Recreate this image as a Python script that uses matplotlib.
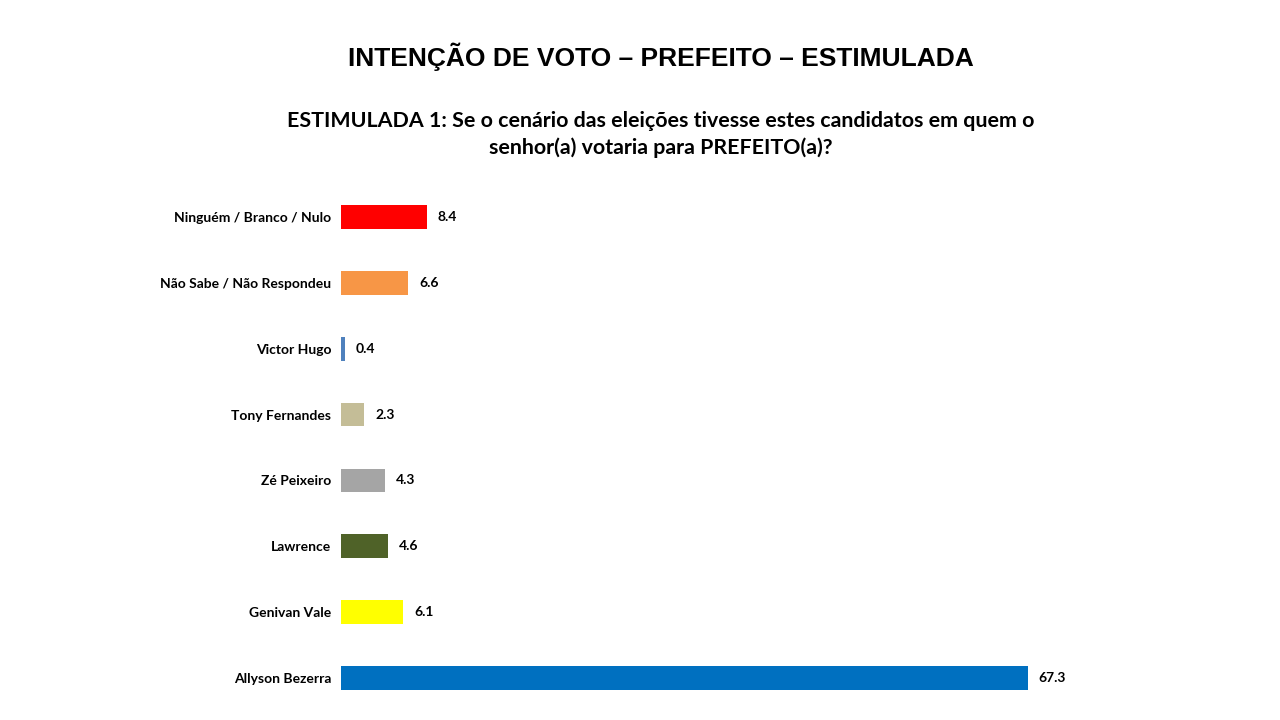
import matplotlib.pyplot as plt
import numpy as np

# data (top to bottom)
candidatos = ['Ninguém / Branco / Nulo', 'Não Sabe / Não Respondeu', 'Victor Hugo',
              'Tony Fernandes', 'Zé Peixeiro', 'Lawrence', 'Genivan Vale', 'Allyson Bezerra']
votos = [8.4, 6.6, 0.4, 2.3, 4.3, 4.6, 6.1, 67.3]
cores = ['#FF0000', '#F79646', '#4F81BD', '#C4BD97', '#A5A5A5', '#4F6228', '#FFFF00', '#0070C0']

W, H = 1280, 720
fig = plt.figure(figsize=(W/100, H/100), dpi=100)
fig.patch.set_facecolor('white')

px_per_unit = (1028 - 341) / 67.3
xmax = 75
ax = fig.add_axes([341/W, 1 - 711/H, xmax*px_per_unit/W, 527/H])

pos = np.arange(len(candidatos))
ax.barh(pos, votos, height=0.36, color=cores)
ax.set_ylim(len(candidatos) - 0.5, -0.5)
ax.set_xlim(0, xmax)

for p, v in zip(pos, votos):
    ax.text(v + 1.05, p, '%.1f' % v, va='center', ha='left',
            fontsize=10, fontweight='bold', family='Lato', color='black')

ax.set_yticks(pos)
ax.set_yticklabels(candidatos, fontsize=10, fontweight='bold', family='Lato')
ax.tick_params(axis='y', length=0, pad=7)
ax.set_xticks([])
for s in ax.spines.values():
    s.set_visible(False)

fig.text(661/W, 1 - 57/H, 'INTENÇÃO DE VOTO – PREFEITO – ESTIMULADA',
         ha='center', va='center', fontsize=19, fontweight='bold',
         family=['Liberation Sans Narrow', 'Liberation Sans'])
fig.text(661/W, 1 - 134.5/H,
         'ESTIMULADA 1: Se o cenário das eleições tivesse estes candidatos em quem o\nsenhor(a) votaria para PREFEITO(a)?',
         ha='center', va='center', fontsize=15.4, fontweight='bold', family='Lato',
         linespacing=1.4)

fig.savefig('out.png', dpi=100)
